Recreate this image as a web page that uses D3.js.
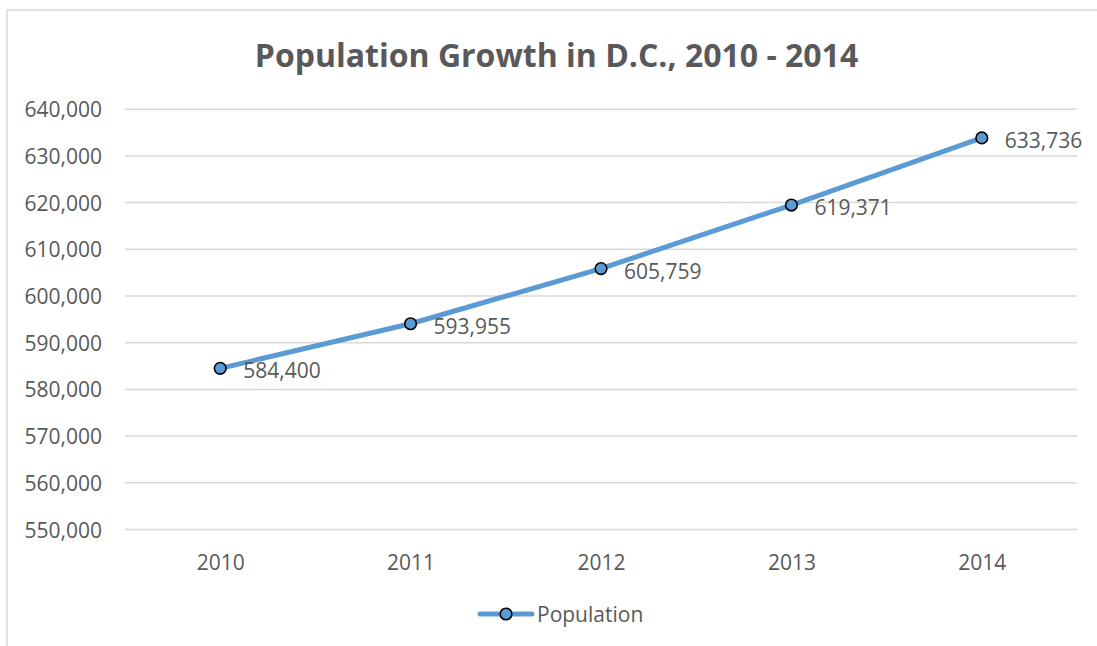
<!DOCTYPE html>
<html>
<head>
<meta charset="utf-8">
<script src="https://cdn.jsdelivr.net/npm/d3@7"></script>
<style>
  html, body { margin: 0; padding: 0; background: #fff; }
  svg { display: block; }
  text { font-family: "Open Sans", sans-serif; fill: #595959; }
</style>
</head>
<body>
<svg id="chart" width="1097" height="646"></svg>
<script>
// Population of Washington, D.C. by year
const years = ["2010", "2011", "2012", "2013", "2014"];
const population = [584400, 593955, 605759, 619371, 633736];
const yTicks = [550000, 560000, 570000, 580000, 590000, 600000, 610000, 620000, 630000, 640000];
const seriesName = "Population";
const chartTitle = "Population Growth in D.C., 2010 - 2014";

const W = 1097, H = 646;
const plot = { left: 125, right: 1077, top: 108.7, bottom: 529 };
const blue = "#5b9bd5";
const fmt = d3.format(",");
const fontSize = "21px";

const svg = d3.select("#chart");

// chart frame
svg.append("rect")
  .attr("x", 7).attr("y", 10)
  .attr("width", W + 20).attr("height", H + 20)
  .attr("fill", "none").attr("stroke", "#d9d9d9").attr("stroke-width", 1.5);

const x = d3.scalePoint().domain(years).range([plot.left, plot.right]).padding(0.5);
const y = d3.scaleLinear().domain([550000, 640000]).range([plot.bottom, plot.top]);

// title
svg.append("text")
  .attr("x", 556.5).attr("y", 66.5)
  .attr("text-anchor", "middle")
  .style("font-size", "32px").style("font-weight", "bold")
  .text(chartTitle);

// horizontal gridlines + value labels
const yAxis = d3.axisLeft(y)
  .tickValues(yTicks)
  .tickFormat(fmt)
  .tickSize(-(plot.right - plot.left))
  .tickPadding(23);
const gy = svg.append("g").attr("transform", `translate(${plot.left},0)`).call(yAxis);
gy.select(".domain").remove();
gy.selectAll(".tick line").attr("stroke", "#d9d9d9").attr("stroke-width", 1.5);
gy.selectAll(".tick text")
  .style("font-size", fontSize).attr("fill", "#595959")
  .style("font-family", "'Open Sans', sans-serif")
  .attr("dy", 8);

// category labels
const xAxis = d3.axisBottom(x).tickSize(0).tickPadding(0);
const gx = svg.append("g").attr("transform", `translate(0,${plot.bottom})`).call(xAxis);
gx.select(".domain").remove();
gx.selectAll(".tick text")
  .style("font-size", fontSize).attr("fill", "#595959")
  .style("font-family", "'Open Sans', sans-serif")
  .attr("y", 0).attr("dy", 41);

// series line
const pts = years.map((yr, i) => ({ yr, v: population[i] }));
svg.append("path")
  .datum(pts)
  .attr("fill", "none")
  .attr("stroke", blue)
  .attr("stroke-width", 5)
  .attr("stroke-linejoin", "round")
  .attr("stroke-linecap", "round")
  .attr("d", d3.line().x(d => x(d.yr)).y(d => y(d.v)));

// markers
svg.selectAll("circle.pt").data(pts).join("circle")
  .attr("class", "pt")
  .attr("cx", d => x(d.yr)).attr("cy", d => y(d.v))
  .attr("r", 5.8)
  .attr("fill", blue).attr("stroke", "#000").attr("stroke-width", 1.6);

// value labels
svg.selectAll("text.val").data(pts).join("text")
  .attr("class", "val")
  .attr("x", d => x(d.yr) + 23).attr("y", d => y(d.v) + 10)
  .style("font-size", fontSize)
  .text(d => fmt(d.v));

// legend
const lg = svg.append("g");
lg.append("line").attr("x1", 480).attr("x2", 532).attr("y1", 614).attr("y2", 614)
  .attr("stroke", blue).attr("stroke-width", 5).attr("stroke-linecap", "round");
lg.append("circle").attr("cx", 506).attr("cy", 614).attr("r", 5.8)
  .attr("fill", blue).attr("stroke", "#000").attr("stroke-width", 1.6);
lg.append("text").attr("x", 537).attr("y", 621.5).style("font-size", fontSize).text(seriesName);
</script>
</body>
</html>
